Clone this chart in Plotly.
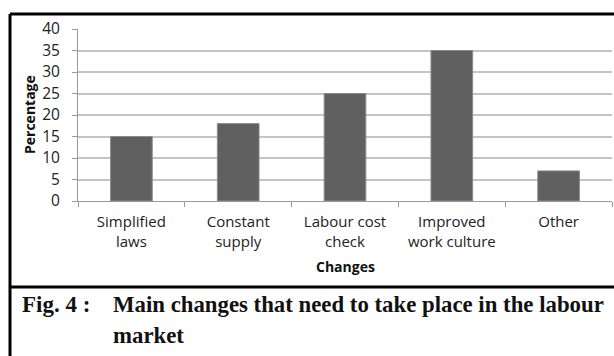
import plotly.graph_objects as go

categories = ["Simplified<br>laws", "Constant<br>supply", "Labour cost<br>check",
              "Improved<br>work culture", "Other"]
percentages = [15, 18, 25, 35, 7]
y_ticks = [0, 5, 10, 15, 20, 25, 30, 35, 40]

W, H = 614, 356
L, R, T, B = 78, 2, 29, 155
pw, ph = W - L - R, H - T - B


def px_x(px):
    return (px - L) / pw


def px_y(py):
    return 1 - (py - T) / ph


fig = go.Figure(go.Bar(
    x=categories, y=percentages,
    marker=dict(color="#606060", line=dict(color="#8a8a8a", width=1)),
    width=0.39,
))

font = "Open Sans, Lato, sans-serif"
fig.update_layout(
    width=W, height=H,
    margin=dict(l=L, r=R, t=T, b=B),
    paper_bgcolor="white", plot_bgcolor="white",
    showlegend=False,
    font=dict(family=font, size=12, color="#222"),
    xaxis=dict(
        type="category", showgrid=False,
        showline=True, linecolor="#9a9a9a", linewidth=1,
        ticks="outside", tickson="boundaries", ticklen=5, tickcolor="#9a9a9a",
        ticklabelstandoff=7,
        tickfont=dict(family=font, size=15, color="#222"),
    ),
    yaxis=dict(
        range=[0, 40], tickvals=y_ticks, showgrid=True,
        gridcolor="#c4c4c4", gridwidth=1.5,
        showline=True, linecolor="#9a9a9a", linewidth=1,
        ticks="outside", ticklen=5, tickcolor="#9a9a9a",
        ticklabelstandoff=9,
        tickfont=dict(family=font, size=15.5, color="#222"),
        zeroline=False,
    ),
)

serif = "Liberation Serif, serif"
annotations = [
    dict(text="<b>Percentage</b>", x=px_x(29), y=px_y(115), textangle=-90,
         xanchor="center", font=dict(family=font, size=14, color="#111")),
    dict(text="<b>Changes</b>", x=0.5, y=px_y(266), xanchor="center",
         font=dict(family=font, size=14, color="#111")),
    dict(text="<b>Fig. 4 :</b>", x=px_x(20), y=px_y(304), xanchor="left",
         font=dict(family=serif, size=23, color="#111")),
    dict(text="<b>Main changes that need to take place in the labour</b>",
         x=px_x(111), y=px_y(304), xanchor="left",
         font=dict(family=serif, size=22.8, color="#111")),
    dict(text="<b>market</b>", x=px_x(111), y=px_y(335), xanchor="left",
         font=dict(family=serif, size=22.8, color="#111")),
]
for a in annotations:
    a.update(xref="paper", yref="paper", showarrow=False, yanchor="middle")
    fig.add_annotation(**a)

# frame around the figure: top, left, and the divider above the caption
frame = dict(type="line", xref="paper", yref="paper",
             line=dict(color="black", width=3))
fig.add_shape(x0=px_x(10), x1=px_x(640), y0=px_y(14), y1=px_y(14), **frame)
fig.add_shape(x0=px_x(10), x1=px_x(10), y0=px_y(14), y1=px_y(370), **frame)
fig.add_shape(x0=px_x(10), x1=px_x(640), y0=px_y(287), y1=px_y(287), **frame)

fig.write_html("out.html")
